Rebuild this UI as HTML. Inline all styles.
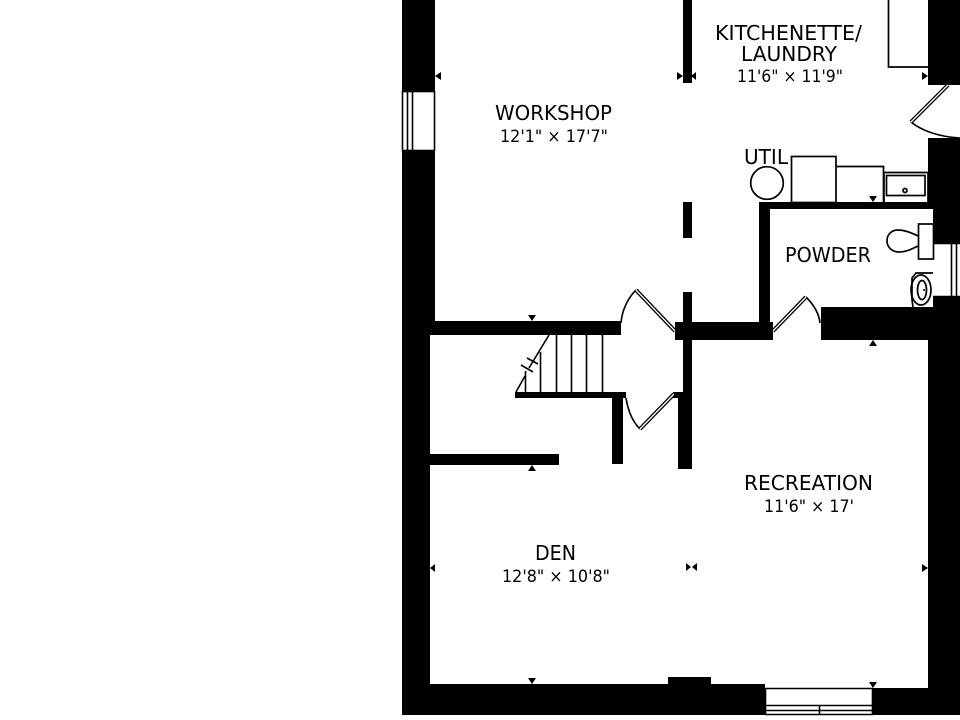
<!DOCTYPE html>
<html><head><meta charset="utf-8"><style>html,body{margin:0;padding:0;background:#fff}svg{display:block}text{font-family:"DejaVu Sans","Liberation Sans",sans-serif;fill:#000;text-anchor:start}</style></head><body>
<svg width="960" height="720" viewBox="0 0 960 720" xmlns="http://www.w3.org/2000/svg">
<rect width="960" height="720" fill="#fff"/>
<g fill="#000">
<rect x="402" y="0" width="33" height="91"/>
<rect x="402" y="151" width="33" height="170"/>
<rect x="402" y="321" width="28" height="394"/>
<rect x="402" y="321" width="219" height="14"/>
<rect x="402" y="684" width="363" height="31"/>
<rect x="668" y="677" width="43" height="12"/>
<rect x="711" y="688" width="54" height="27"/>
<rect x="873" y="688" width="87" height="27"/>
<rect x="928" y="0" width="32" height="85"/>
<rect x="928" y="138" width="32" height="71"/>
<rect x="933" y="202" width="27" height="41"/>
<rect x="759" y="202" width="174" height="7"/>
<rect x="759" y="202" width="11" height="122"/>
<rect x="675" y="322" width="98" height="18"/>
<rect x="821" y="307" width="112" height="33"/>
<rect x="933" y="297" width="27" height="43"/>
<rect x="928" y="340" width="32" height="357"/>
<rect x="683" y="0" width="9" height="83"/>
<rect x="683" y="202" width="9" height="36"/>
<rect x="683" y="292" width="9" height="104"/>
<rect x="673" y="392" width="19" height="6"/>
<rect x="678" y="392" width="14" height="77"/>
<rect x="515" y="392" width="111" height="6"/>
<rect x="612" y="392" width="11" height="72"/>
<rect x="430" y="454" width="129" height="11"/>
</g>
<g fill="none" stroke="#000" stroke-width="1.6">
<rect x="402.5" y="91.500" width="32" height="59"/>
<path d="M407.500 91V151M412.500 91V151"/>
<path d="M933 243.500H960M933 296.500H960M951.500 243V297M956.500 243V297"/>
<path d="M765 688.500H873M765 705.500H873M765 710.500H873M765 714.500H873M819.500 705V715M765.500 688V715M872.500 688V715"/>
<path d="M525.500 392V371M540.500 392V352M556.500 392V335M571.500 392V335M586.500 392V335M602.500 392V335"/>
<path d="M516 392L525 376M529 368L549 335M521 365L533 372M527 358L538 364"/>
<path d="M621 323C622 310 628 298 636 290M626 398C628 411 632 421 640 429M806 297C813 304 819 313 820 323M911 122C922 131 940 137 960 138"/>
</g>
<g fill="none" stroke="#000" stroke-width="4">
<path d="M636 290L675 331M640 429L674 394M806 297L773 331M948 85L911 122"/>
</g>
<g fill="none" stroke="#fff" stroke-width="1.300">
<path d="M636 290L675 331M640 429L674 394M806 297L773 331M948 85L911 122"/>
</g>
<g fill="none" stroke="#000" stroke-width="1.700">
<path d="M888.500 0V67H928"/>
<circle cx="767" cy="183" r="16.300"/>
<rect x="791.500" y="156.500" width="44.500" height="46"/>
<path d="M836 166.500H883.500V202"/>
<path d="M884 172.500H928V202M884 172V202"/>
<rect x="886.500" y="175.500" width="38.500" height="20"/>
<circle cx="905" cy="190.500" r="2"/>
<rect x="918.500" y="224" width="15" height="35"/>
<path d="M918 236C912 233 905 230 898 230C891 230 887 235 887 241C887 247 892 252 899 252C906 252 912 249 918 246"/>
<path d="M933 273H916L912 278V300L913 307"/>
<ellipse cx="921" cy="290" rx="10" ry="15"/>
<ellipse cx="922" cy="290" rx="4.500" ry="9.500"/>
</g>
<circle cx="924" cy="290" r="1" fill="#000"/>
<g fill="#000">
<path d="M528 315H536L532 321Z"/>
<path d="M528 471H536L532 465Z"/>
<path d="M528 678H536L532 684Z"/>
<path d="M869 196H877L873 202Z"/>
<path d="M869 346H877L873 340Z"/>
<path d="M869 682H877L873 688Z"/>
<path d="M435 76L441 72V80Z"/>
<path d="M430 568L435 564V572Z"/>
<path d="M677 72V80L683 76Z"/>
<path d="M696 72V80L691 76Z"/>
<path d="M686 563V571L691 567Z"/>
<path d="M697 563V571L692 567Z"/>
<path d="M922 72V80L928 76Z"/>
<path d="M922 564V572L928 568Z"/>
</g>
<text x="495" y="120" font-size="20.500" textLength="117" lengthAdjust="spacingAndGlyphs">WORKSHOP</text>
<text x="500" y="142" font-size="17" textLength="108" lengthAdjust="spacingAndGlyphs">12'1" × 17'7"</text>
<text x="715" y="40" font-size="20.500" textLength="147" lengthAdjust="spacingAndGlyphs">KITCHENETTE/</text>
<text x="741" y="61" font-size="20.500" textLength="96" lengthAdjust="spacingAndGlyphs">LAUNDRY</text>
<text x="737" y="82" font-size="17" textLength="106" lengthAdjust="spacingAndGlyphs">11'6" × 11'9"</text>
<text x="744" y="164" font-size="20.500" textLength="44" lengthAdjust="spacingAndGlyphs">UTIL</text>
<text x="785" y="262" font-size="20.500" textLength="86" lengthAdjust="spacingAndGlyphs">POWDER</text>
<text x="744" y="490" font-size="20.500" textLength="129" lengthAdjust="spacingAndGlyphs">RECREATION</text>
<text x="764" y="512" font-size="17" textLength="90" lengthAdjust="spacingAndGlyphs">11'6" × 17'</text>
<text x="535" y="560" font-size="20.500" textLength="41" lengthAdjust="spacingAndGlyphs">DEN</text>
<text x="502" y="582" font-size="17" textLength="108" lengthAdjust="spacingAndGlyphs">12'8" × 10'8"</text>
</svg>
</body></html>
